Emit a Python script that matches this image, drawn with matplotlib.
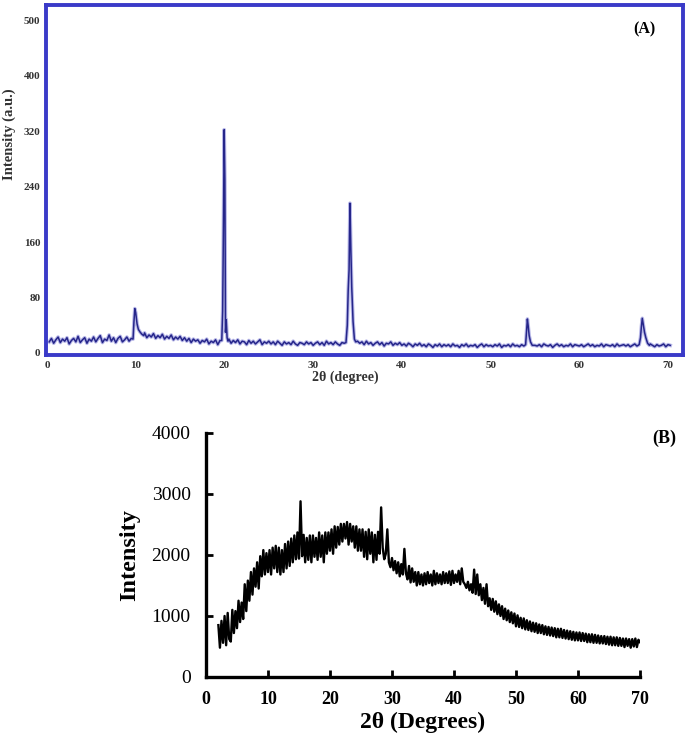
#!/usr/bin/env python
from numpy import *
import matplotlib
matplotlib.use('Agg')
import matplotlib.pyplot as plt

# ---- panel (A) data: 2theta step scan baseline (0.25 deg) + peak regions
A_base_angle = arange(0.25, 70.26, 0.25)
A_base_int = [16, 21, 14, 19, 23, 15, 20, 17, 22, 13, 18, 21, 16, 24, 15, 19, 22, 14, 20, 17,
	23, 16, 21, 25, 15, 20, 18, 26, 17, 22, 15, 21, 24, 16, 19, 23, 17, 21, 18, 24,
	30, 27, 24, 29, 22, 26, 23, 28, 21, 25, 22, 27, 20, 24, 21, 26, 19, 23, 20, 24,
	18, 22, 17, 21, 15, 20, 17, 19, 14, 18, 16, 20, 13, 17, 15, 19, 12, 18, 14, 17,
	17, 20, 14, 18, 15, 19, 13, 17, 16, 12, 18, 14, 17, 13, 16, 19, 12, 16, 14, 17,
	13, 16, 12, 17, 14, 11, 16, 13, 15, 12, 17, 13, 11, 15, 14, 12, 16, 13, 15, 11,
	14, 16, 12, 15, 11, 17, 13, 15, 12, 16, 13, 11, 15, 14, 12, 16, 13, 18, 15, 17,
	14, 16, 12, 17, 13, 15, 11, 14, 16, 12, 15, 10, 14, 13, 16, 11, 14, 12, 15, 11,
	13, 10, 14, 12, 9, 13, 11, 14, 10, 12, 9, 13, 11, 8, 12, 10, 13, 9, 12, 10,
	12, 9, 13, 10, 11, 8, 12, 10, 13, 9, 11, 10, 12, 8, 11, 13, 9, 12, 10, 11,
	9, 12, 10, 13, 8, 11, 10, 12, 9, 13, 10, 11, 9, 12, 10, 11, 12, 10, 13, 11,
	10, 12, 9, 13, 11, 10, 12, 8, 11, 13, 10, 12, 9, 11, 10, 13, 9, 12, 11, 10,
	12, 9, 11, 13, 10, 12, 9, 11, 10, 13, 9, 12, 11, 10, 12, 9, 13, 10, 11, 12,
	10, 12, 9, 11, 13, 10, 12, 11, 9, 12, 10, 13, 11, 9, 12, 10, 11, 13, 9, 12,
	11]

A_peak_angle = [9.7, 9.8, 9.9, 10.0, 10.15, 10.3, 10.5, 10.7, 10.9,
	19.7, 19.8, 19.9, 19.97, 20.05, 20.12, 20.2, 20.3, 20.4,
	33.7, 33.85, 33.95, 34.05, 34.15, 34.25, 34.35, 34.5, 34.65, 34.8,
	53.95, 54.05, 54.15, 54.25, 54.35, 54.5, 54.7,
	66.75, 66.9, 67.0, 67.1, 67.2, 67.35, 67.5, 67.7, 67.9]
A_peak_int = [20, 45, 64, 58, 42, 34, 30, 27, 25,
	18, 60, 200, 322, 250, 30, 48, 22, 17,
	15, 40, 90, 120, 216, 150, 95, 45, 20, 16,
	12, 30, 49, 38, 25, 16, 11,
	12, 22, 38, 50, 42, 30, 22, 14, 11]
A_windows = [(9.6, 10.95), (19.6, 20.45), (33.6, 34.9), (53.9, 54.8), (66.7, 67.95)]

A_yticks = [0, 80, 160, 240, 320, 400, 480]
A_yticklabels = ['0', '80', '160', '240', '320', '400', '500']
A_xticks = [0, 10, 20, 30, 40, 50, 60, 70]

# ---- panel (B) data: 2theta step scan 2-70 deg (0.25 deg)
B_angle = arange(2.0, 70.01, 0.25)
B_int = [850, 480, 920, 560,
	1000, 520, 1050, 620,
	580, 1100, 720, 1080,
	800, 1250, 900, 1220,
	950, 1520, 1080, 1580,
	1250, 1720, 1350, 1780,
	1480, 1880, 1450, 1980,
	1650, 2080, 1680, 2030,
	1720, 2080, 1680, 2120,
	1780, 2150, 1720, 2120,
	1680, 2080, 1720, 2180,
	1780, 2220, 1820, 2270,
	1880, 2320, 1930, 2370,
	1940, 2880, 1980, 2330,
	1880, 2280, 1920, 2320,
	1880, 2320, 1970, 2280,
	1920, 2370, 1970, 2320,
	1880, 2370, 2020, 2370,
	2070, 2420, 2020, 2470,
	2120, 2460, 2170, 2510,
	2220, 2510, 2270, 2540,
	2170, 2510, 2220, 2470,
	2120, 2470, 2070, 2420,
	2070, 2420, 1970, 2380,
	1930, 2420, 2020, 2370,
	1880, 2330, 1920, 2380,
	2020, 2780, 2120, 1930,
	2020, 2420, 1880, 1800,
	1950, 1750, 1900, 1700,
	1880, 1650, 1850, 1680,
	2100, 1700, 1600, 1820,
	1550, 1780, 1560, 1720,
	1500, 1720, 1520, 1680,
	1500, 1700, 1520, 1720,
	1540, 1680, 1500, 1740,
	1520, 1700, 1540, 1680,
	1520, 1720, 1540, 1700,
	1540, 1730, 1510, 1740,
	1540, 1680, 1560, 1740,
	1520, 1780, 1560, 1520,
	1460, 1560, 1420, 1520,
	1380, 1760, 1360, 1680,
	1340, 1520, 1260, 1460,
	1200, 1520, 1160, 1290,
	1100, 1280, 1070, 1240,
	1030, 1190, 1000, 1160,
	950, 1120, 930, 1090,
	900, 1060, 880, 1040,
	830, 1010, 820, 970,
	800, 960, 780, 930,
	770, 910, 750, 890,
	740, 880, 720, 860,
	720, 850, 700, 830,
	690, 820, 680, 810,
	670, 800, 650, 790,
	650, 790, 640, 770,
	630, 760, 620, 750,
	610, 740, 600, 730,
	600, 730, 590, 720,
	590, 710, 570, 700,
	570, 700, 560, 690,
	560, 680, 550, 670,
	550, 670, 540, 660,
	530, 660, 520, 650,
	520, 650, 510, 640,
	510, 630, 490, 630,
	510, 620, 480, 620,
	500, 630, 490, 610,
	570]

B_yticks = [0, 1000, 2000, 3000, 4000]
B_xticks = [0, 10, 20, 30, 40, 50, 60, 70]


def plot_panel_A(fig):
	ax = fig.add_axes([0.0672, 0.519, 0.930, 0.474])
	border = '#3a3ac8'

	# merge baseline and peak regions
	base_x = array(A_base_angle)
	base_y = array(A_base_int, dtype=float)
	keep = ones(len(base_x), dtype=bool)
	for lo, hi in A_windows:
		keep &= ~((base_x > lo) & (base_x < hi))
	x = concatenate([base_x[keep], array(A_peak_angle)])
	y = concatenate([base_y[keep], array(A_peak_int, dtype=float)])
	order = argsort(x)
	ax.plot(x[order], y[order], color='#b8b8e8', linewidth=2.6)
	ax.plot(x[order], y[order], color='#26268a', linewidth=1.1)

	ax.axis([-0.11, 71.7, -2.9, 501.6])
	for s in ax.spines.values():
		s.set_color(border)
		s.set_linewidth(2.8)
	ax.set_yticks(A_yticks)
	ax.set_yticklabels(A_yticklabels)
	ax.set_xticks(A_xticks)
	ax.tick_params(length=0, pad=4, labelsize=8, labelcolor='#333333')
	for lab in ax.get_xticklabels() + ax.get_yticklabels():
		lab.set_fontweight('bold')
	ax.set_xlabel(u'2\u03b8 (degree)', fontsize=10, fontweight='bold', color='#333333')
	ax.set_ylabel('Intensity (a.u.)', fontsize=10.5, fontweight='bold', color='#333333')
	ax.xaxis.set_label_coords(0.47, -0.045)
	ax.yaxis.set_label_coords(-0.047, 0.63)
	ax.text(0.94, 0.93, '(A)', transform=ax.transAxes, fontsize=11.5, fontweight='bold', ha='center', va='center')


def plot_panel_B(fig):
	ax = fig.add_axes([0.3007, 0.0827, 0.6336, 0.3306])
	ax.plot(B_angle, B_int, color='black', linewidth=1.7)

	ax.axis([0, 70, 0, 4000])
	ax.spines['top'].set_visible(False)
	ax.spines['right'].set_visible(False)
	ax.spines['left'].set_linewidth(2.4)
	ax.spines['bottom'].set_linewidth(2.4)
	ax.set_yticks(B_yticks)
	ax.set_xticks(B_xticks)
	ax.tick_params(direction='in', length=5, width=2, labelsize=13)
	ax.tick_params(axis='y', pad=11, labelsize=14)
	ax.tick_params(axis='x', pad=10)
	for lab in ax.get_xticklabels():
		lab.set_fontweight('bold')
	ax.set_xlabel(u'2\u03b8 (Degrees)', fontsize=17, fontweight='bold', labelpad=3)
	ax.set_ylabel('Intensity', fontsize=17.5, fontweight='bold', labelpad=8)
	ax.text(1.055, 0.98, '(B)', transform=ax.transAxes, fontsize=13, fontweight='bold', ha='center', va='center')


if __name__ == "__main__":
	plt.rcParams['font.family'] = ['Liberation Serif', 'DejaVu Serif']
	fig = plt.figure(figsize=(6.85, 7.38), dpi=100)
	plot_panel_A(fig)
	plot_panel_B(fig)
	plt.savefig('out.png', dpi=100)

# End of file
